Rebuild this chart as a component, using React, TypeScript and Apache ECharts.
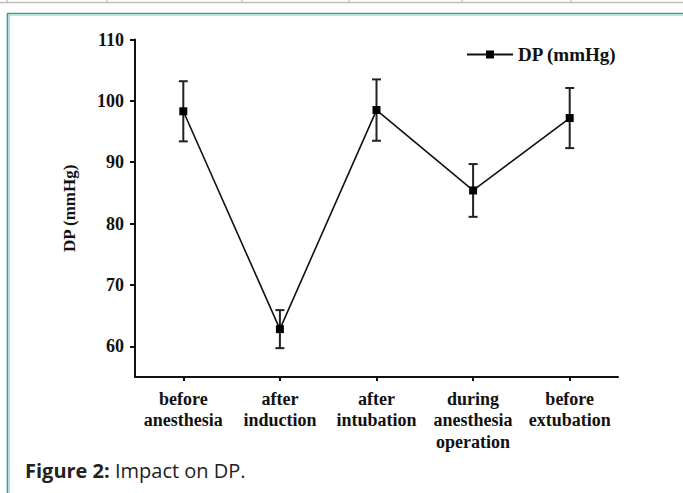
import React, { useEffect, useRef } from "react";
import * as echarts from "echarts";

const categories = [
  "before\nanesthesia",
  "after\ninduction",
  "after\nintubation",
  "during\nanesthesia\noperation",
  "before\nextubation",
];
const dpMeans = [98.3, 62.8, 98.5, 85.4, 97.2];
const dpErrors = [4.9, 3.1, 5.0, 4.3, 4.9];
const yTicks = [60, 70, 80, 90, 100, 110];
const seriesName = "DP (mmHg)";
const yAxisName = "DP (mmHg)";
const captionBold = "Figure 2:";
const captionRest = " Impact on DP.";
const tableColumnLines = [7, 107, 242, 349, 462, 571];

export default function App() {
  const ref = useRef<HTMLDivElement>(null);
  useEffect(() => {
    document.body.style.margin = "0";
    const chart = echarts.init(ref.current!, null, { renderer: "svg" });
    const serif = "'Liberation Serif', 'Times New Roman', serif";
    const errData = dpMeans.map((m, i) => [i, m - dpErrors[i], m + dpErrors[i]]);
    const gray = "#bdbdbd";
    const tableLines: any[] = [
      { type: "line", shape: { x1: 0, y1: 2.5, x2: 683, y2: 2.5 }, style: { stroke: gray, lineWidth: 1.5 } },
      ...tableColumnLines.map((x) => ({
        type: "line",
        shape: { x1: x, y1: 0, x2: x, y2: 3 },
        style: { stroke: gray, lineWidth: 1.2 },
      })),
    ];
    chart.setOption({
      animation: false,
      backgroundColor: "#ffffff",
      textStyle: { fontFamily: serif },
      grid: { left: 135, right: 65, top: 39.5, bottom: 116 },
      legend: {
        data: [seriesName],
        left: 461,
        top: 40,
        itemWidth: 46,
        itemHeight: 10,
        itemGap: 6,
        textStyle: { fontFamily: serif, fontWeight: "bold", fontSize: 19, color: "#111" },
      },
      xAxis: {
        type: "category",
        data: categories,
        boundaryGap: true,
        axisLine: { show: true, lineStyle: { color: "#111", width: 2 } },
        axisTick: { show: true, alignWithLabel: true, length: 4, lineStyle: { color: "#111", width: 2 } },
        axisLabel: {
          interval: 0,
          margin: 11,
          fontFamily: serif,
          fontWeight: "bold",
          fontSize: 18,
          lineHeight: 21.5,
          color: "#111",
        },
        splitLine: { show: false },
      },
      yAxis: {
        type: "value",
        min: 55,
        max: 110,
        name: yAxisName,
        nameLocation: "middle",
        nameGap: 57,
        nameTextStyle: { fontFamily: serif, fontWeight: "bold", fontSize: 17, color: "#111" },
        axisLine: { show: true, lineStyle: { color: "#111", width: 2 } },
        axisTick: { show: true, length: 5, customValues: yTicks, lineStyle: { color: "#111", width: 2 } },
        axisLabel: {
          customValues: yTicks,
          margin: 11,
          fontFamily: serif,
          fontWeight: "bold",
          fontSize: 18,
          color: "#111",
        },
        splitLine: { show: false },
      },
      graphic: [
        ...tableLines,
        { type: "line", shape: { x1: 7, y1: 13.5, x2: 683, y2: 13.5 }, style: { stroke: "#30a494", lineWidth: 1.6 } },
        { type: "line", shape: { x1: 8.5, y1: 15.2, x2: 683, y2: 15.2 }, style: { stroke: "#a3ded6", lineWidth: 1.3 } },
        { type: "line", shape: { x1: 7.5, y1: 13, x2: 7.5, y2: 493 }, style: { stroke: "#30a494", lineWidth: 1.6 } },
        { type: "line", shape: { x1: 9.2, y1: 15, x2: 9.2, y2: 493 }, style: { stroke: "#a3ded6", lineWidth: 1.3 } },
        {
          type: "text",
          x: 25,
          y: 470,
          style: {
            text: "{b|" + captionBold + "}" + captionRest,
            fontFamily: "'Open Sans', 'Noto Sans', sans-serif",
            fontSize: 20,
            fill: "#222",
            verticalAlign: "middle",
            rich: { b: { fontFamily: "'Open Sans', 'Noto Sans', sans-serif", fontSize: 20, fontWeight: "bold", fill: "#222" } },
          },
        },
      ],
      series: [
        {
          name: "error",
          type: "custom",
          z: 2,
          data: errData,
          encode: { x: 0, y: [1, 2] },
          renderItem: (params: any, api: any) => {
            const x = api.value(0);
            const lo = api.coord([x, api.value(1)]);
            const hi = api.coord([x, api.value(2)]);
            const w = 4.5;
            const style = { stroke: "#222", lineWidth: 2 };
            return {
              type: "group",
              children: [
                { type: "line", shape: { x1: lo[0], y1: lo[1], x2: hi[0], y2: hi[1] }, style },
                { type: "line", shape: { x1: lo[0] - w, y1: lo[1], x2: lo[0] + w, y2: lo[1] }, style },
                { type: "line", shape: { x1: hi[0] - w, y1: hi[1], x2: hi[0] + w, y2: hi[1] }, style },
              ],
            };
          },
        },
        {
          name: seriesName,
          type: "line",
          z: 3,
          data: dpMeans,
          symbol: "rect",
          symbolSize: 8,
          itemStyle: { color: "#000" },
          lineStyle: { color: "#111", width: 1.6 },
        },
      ],
    });
    return () => chart.dispose();
  }, []);
  return <div ref={ref} style={{ width: 683, height: 493 }} />;
}
